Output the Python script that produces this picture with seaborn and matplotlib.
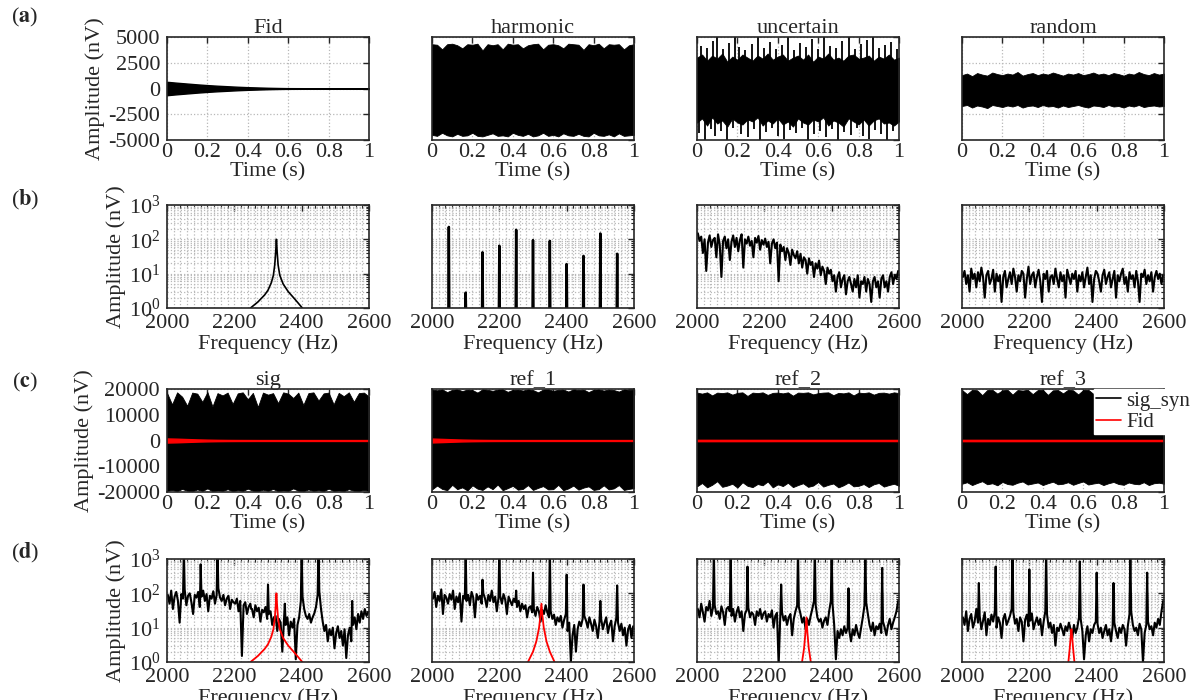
import numpy as np
import pandas as pd
import matplotlib.pyplot as plt
import seaborn as sns
from matplotlib.lines import Line2D
from matplotlib.ticker import MultipleLocator, LogLocator, NullFormatter

sns.set_theme(style='white')
plt.rcParams['font.family'] = ['Liberation Serif', 'DejaVu Serif']
plt.rcParams['mathtext.fontset'] = 'stix'
plt.rcParams['axes.unicode_minus'] = False

BLACK = '#000000'
RED = '#ff0000'

# ------------------------------------------------------------------ data
row_a_titles = ['Fid', 'harmonic', 'uncertain', 'random']
row_c_titles = ['sig', 'ref_1', 'ref_2', 'ref_3']
panel_tags = ['a', 'b', 'c', 'd']

# time grid of the envelopes (every 0.025 s)
t_env = np.linspace(0, 1, 41)

# (a) time signals, upper / lower envelope (nV)
fid_t = [0, .05, .1, .15, .2, .25, .3, .35, .4, .45, .5, .55, .6, .8, 1.0]
fid_amp = [650, 560, 480, 400, 330, 270, 220, 170, 130, 100, 70, 50, 35, 20, 15]

harm_up = [4300, 4250, 3800, 4300, 4350, 4200, 3900, 4300, 4250, 4350, 3700, 4300, 4200, 4300,
           3800, 4350, 4250, 4300, 3900, 4200, 4300, 4350, 3800, 4250, 4300, 4200, 3900, 4350,
           4300, 4250, 3750, 4300, 4200, 4350, 3900, 4300, 4250, 4300, 3800, 4200, 4300]
harm_lo = [-4500, -4600, -4300, -4550, -4650, -4400, -4600, -4550, -4300, -4600, -4650, -4500,
           -4350, -4600, -4550, -4650, -4300, -4500, -4600, -4400, -4650, -4550, -4300, -4600,
           -4500, -4650, -4350, -4550, -4600, -4400, -4600, -4650, -4300, -4550, -4600, -4450,
           -4650, -4350, -4600, -4550, -4500]
# uncertain: dense core plus isolated spikes
unc_up = [3000, 3300, 2700, 3200, 2900, 3400, 2600, 3100, 2800, 3300, 3000, 2700, 3200, 2900,
          3400, 2800, 3100, 3300, 2700, 3000, 3200, 2800, 3300, 2600, 3100, 2900, 3400, 2800,
          3000, 2700, 3200, 3300, 2900, 3000, 3200, 2700, 3100, 2900, 3300, 2800, 3000]
unc_lo = [-3300, -2900, -3600, -2800, -3400, -3100, -3700, -2900, -3300, -3500, -3000, -3200,
          -2800, -3600, -3100, -3400, -2900, -3500, -3200, -3700, -2900, -3300, -3500, -3000,
          -3200, -2800, -3600, -3100, -3300, -3700, -2900, -3200, -3500, -3000, -3600, -3100,
          -2900, -3400, -3300, -3600, -3200]
unc_spk_up_t = [0.02, 0.05, 0.08, 0.1, 0.13, 0.16, 0.19, 0.21, 0.24, 0.27, 0.3, 0.33, 0.36, 0.39,
                0.42, 0.45, 0.48, 0.51, 0.54, 0.57, 0.6, 0.63, 0.66, 0.69, 0.72, 0.75, 0.78,
                0.81, 0.84, 0.87, 0.9, 0.93, 0.96, 0.99]
unc_spk_up_v = [4100, 3900, 4600, 5000, 3800, 4400, 5000, 4000, 3700, 4300, 5000, 3900, 4500,
                3800, 4200, 5000, 3700, 4400, 4000, 4800, 3800, 5000, 4100, 3900, 4600, 5000,
                3800, 4300, 4700, 5000, 3900, 4200, 4500, 3800]
unc_spk_lo_t = [0.01, 0.04, 0.07, 0.09, 0.12, 0.15, 0.18, 0.22, 0.25, 0.28, 0.31, 0.34, 0.37,
                0.4, 0.43, 0.46, 0.49, 0.52, 0.55, 0.58, 0.61, 0.64, 0.67, 0.7, 0.73, 0.76,
                0.79, 0.82, 0.85, 0.88, 0.91, 0.94, 0.97]
unc_spk_lo_v = [-4300, -5000, -3900, -4600, -4100, -5000, -3800, -4400, -4700, -3900, -5000,
                -4200, -3800, -4600, -4900, -4000, -4300, -3800, -5000, -4400, -4100, -4700,
                -3900, -5000, -4200, -4500, -3800, -4600, -4900, -4000, -4400, -5000, -4100]
rnd_up = [1300, 1450, 1200, 1500, 1350, 1250, 1550, 1400, 1300, 1450, 1350, 1600, 1250, 1400,
          1500, 1300, 1450, 1350, 1550, 1400, 1250, 1450, 1350, 1500, 1300, 1400, 1550, 1350,
          1450, 1300, 1500, 1400, 1250, 1450, 1350, 1600, 1400, 1300, 1500, 1350, 1450]
rnd_lo = [-1700, -1600, -1850, -1650, -1750, -1900, -1600, -1700, -1800, -1650, -1750, -1600,
          -1850, -1700, -1650, -1800, -1600, -1750, -1700, -1850, -1650, -1800, -1700, -1600,
          -1750, -1850, -1650, -1700, -1800, -1600, -1750, -1700, -1850, -1650, -1750, -1600,
          -1800, -1700, -1650, -1750, -1700]

# (c) synthetic signals, upper / lower envelope (nV)
sig_up = [18500, 14000, 18700, 17000, 13500, 18600, 18200, 15000, 18800, 13200, 18400, 17500,
          18600, 14200, 18300, 18700, 16000, 18500, 13000, 18600, 17800, 18400, 14500, 18700,
          18200, 16500, 18600, 13800, 18400, 18700, 15500, 18300, 18600, 14000, 18500, 17200,
          18700, 15000, 18400, 18600, 17000]
sig_lo = [-19600, -19200, -19700, -18800, -19500, -19700, -19000, -19600, -18600, -19700,
          -19400, -19600, -18900, -19700, -19300, -19600, -18700, -19500, -19700, -19100,
          -19600, -18800, -19700, -19400, -19600, -18600, -19500, -19700, -19000, -19600,
          -19300, -19700, -18700, -19600, -19400, -19700, -18900, -19500, -19600, -19200, -19600]
ref1_up = [19800, 19500, 19900, 18800, 19700, 19900, 19200, 19800, 19600, 18600, 19900, 19700,
           19300, 19800, 19900, 18900, 19700, 19800, 19400, 19900, 19600, 18700, 19800, 19900,
           19300, 19700, 19800, 19000, 19900, 19600, 19800, 18800, 19700, 19900, 19400, 19800,
           19600, 19000, 19900, 19700, 19800]
ref1_lo = [-19000, -17500, -18800, -19300, -17200, -18900, -18200, -19400, -17400, -18700,
           -19200, -17800, -18900, -17100, -19300, -18500, -17600, -19100, -18800, -17300,
           -19200, -18400, -17700, -19000, -18900, -17200, -19300, -18600, -17500, -19100,
           -18300, -17800, -19200, -18900, -17400, -19000, -18600, -17300, -19200, -18800, -18500]
ref2_up = [18600, 18200, 18700, 17500, 18600, 18400, 18700, 17800, 18500, 18700, 17300, 18600,
           18400, 18700, 17700, 18500, 18600, 18300, 18700, 17400, 18600, 18500, 18700, 17900,
           18400, 18600, 18700, 17600, 18500, 18300, 18700, 17500, 18600, 18400, 18700, 17800,
           18500, 18600, 18200, 18700, 18400]
ref2_lo = [-17800, -16500, -18200, -17200, -15800, -18000, -17500, -16800, -18300, -16200,
           -17600, -18100, -16900, -17400, -15900, -18200, -17000, -17700, -16400, -18100,
           -17300, -16600, -18000, -17500, -16100, -17900, -17200, -16700, -18200, -17400,
           -16300, -17800, -17600, -16900, -18100, -17000, -16500, -17900, -17300, -16800, -17600]
ref3_up = [19600, 18000, 19700, 19500, 17600, 19600, 19700, 18200, 19500, 19700, 17800, 19600,
           19400, 19700, 18000, 19600, 19700, 17700, 19500, 19600, 18300, 19700, 19500, 17900,
           19600, 19700, 18100, 19500, 19700, 17600, 19600, 19500, 18200, 19700, 19600, 17800,
           19500, 19700, 18000, 19600, 19500]
ref3_lo = [-16800, -16200, -17300, -16500, -15800, -17000, -16600, -17400, -16100, -16900,
           -17200, -16400, -15900, -17100, -16700, -16300, -17300, -16600, -16000, -17000,
           -16800, -16200, -17200, -16500, -15900, -17100, -16700, -16400, -17300, -16600,
           -16100, -16900, -17200, -16300, -16800, -17000, -16200, -17300, -16600, -16400, -16800]

# Fid envelope inside the (c) panels (nV)
sig_fid_amp = [800, 700, 560, 430, 330, 260, 220, 200, 190, 180, 180, 180, 180, 180, 180]
ref1_fid_amp = [750, 620, 480, 360, 280, 230, 200, 190, 180, 180, 180, 180, 180, 180, 180]
ref2_fid_amp = [260, 260, 250, 250, 250, 240, 240, 240, 230, 230, 230, 230, 230, 220, 220]
ref3_fid_amp = [250, 250, 250, 240, 240, 240, 240, 230, 230, 230, 230, 220, 220, 220, 220]

# spectra: noise read every 5 Hz (2002.5 ... 2597.5 Hz)
f_noise = np.arange(2002.5, 2600, 5)

# Fid spectrum
fid_f = [2248, 2270, 2290, 2300, 2310, 2316, 2320, 2323, 2325, 2327, 2330, 2335, 2345, 2360, 2380, 2402]
fid_a = [1.0, 1.5, 2.4, 3.3, 5.5, 9, 18, 45, 100, 45, 18, 9, 5, 3, 1.8, 1.0]

# harmonic lines
harm_f = [2050, 2100, 2150, 2200, 2250, 2300, 2350, 2400, 2450, 2500, 2550]
harm_a = [230, 2.8, 42, 65, 190, 95, 90, 19, 33, 148, 38]

unc_spec = [150, 90, 120, 40, 100, 12, 80, 130, 60, 95,
            110, 30, 140, 70, 8, 90, 120, 55, 100, 25,
            85, 130, 60, 110, 45, 95, 140, 15, 100, 75,
            120, 65, 90, 30, 110, 80, 125, 50, 95, 70,
            105, 60, 85, 20, 75, 100, 55, 80, 6, 70,
            45, 60, 25, 55, 40, 18, 50, 35, 28, 45,
            20, 38, 15, 30, 25, 10, 28, 18, 22, 8,
            20, 14, 24, 9, 16, 12, 5, 15, 10, 13,
            6, 9, 3, 8, 11, 4, 7, 9, 2.5, 6,
            8, 5, 3, 7, 4, 9, 2, 6, 5, 8,
            3, 7, 5, 1.5, 6, 8, 4, 6, 2, 7,
            9, 4, 6, 3, 8, 11, 5, 9, 7, 12]
rnd_spec = [8, 12, 5, 9, 3, 14, 7, 10, 4, 11,
            6, 15, 8, 2, 9, 12, 5, 7, 13, 3,
            10, 6, 9, 1.5, 8, 12, 4, 7, 11, 5,
            14, 8, 3, 9, 6, 12, 10, 2, 7, 16,
            5, 9, 11, 4, 8, 13, 6, 1.5, 10, 7,
            12, 3, 8, 9, 5, 14, 7, 4, 11, 6,
            9, 2, 13, 8, 5, 10, 7, 12, 3, 9,
            6, 11, 4, 8, 15, 5, 9, 1.5, 7, 12,
            10, 6, 3, 9, 13, 5, 8, 11, 4, 7,
            12, 2, 9, 6, 10, 14, 5, 8, 3, 11,
            7, 9, 4, 12, 6, 1.5, 10, 8, 13, 5,
            9, 6, 11, 3, 8, 12, 7, 10, 5, 9]

# (d) noise floors of the synthetic signals
sig_spec = [90, 50, 120, 35, 80, 110, 60, 14, 95, 70,
            130, 45, 85, 100, 55, 25, 90, 75, 110, 40,
            80, 120, 60, 95, 30, 85, 70, 115, 50, 90,
            140, 75, 60, 90, 45, 70, 85, 35, 65, 55,
            50, 70, 30, 60, 1.5, 45, 55, 25, 40, 50,
            35, 20, 45, 30, 38, 15, 33, 28, 40, 18,
            25, 30, 12, 20, 22, 8, 18, 14, 2, 16,
            12, 20, 6, 15, 10, 18, 1.2, 12, 20, 60,
            80, 35, 22, 18, 25, 14, 20, 26, 40, 90,
            110, 35, 15, 8, 12, 4, 9, 6, 10, 2.5,
            7, 11, 5, 8, 3, 9, 1.3, 6, 10, 4,
            12, 20, 9, 25, 14, 30, 18, 35, 22, 28]
ref1_spec = [70, 110, 40, 85, 60, 130, 25, 90, 75, 50,
             95, 65, 120, 35, 80, 55, 100, 15, 85, 70,
             60, 90, 45, 110, 75, 20, 95, 65, 85, 50,
             100, 70, 40, 90, 60, 120, 55, 80, 30, 75,
             85, 50, 95, 65, 25, 80, 60, 45, 70, 55,
             40, 60, 30, 50, 35, 45, 20, 38, 42, 28,
             35, 22, 40, 30, 15, 33, 25, 45, 28, 20,
             30, 18, 24, 12, 20, 15, 22, 10, 17, 25,
             8, 14, 1, 6, 12, 2, 9, 15, 11, 18,
             22, 16, 10, 20, 13, 8, 17, 11, 5, 15,
             18, 9, 14, 20, 7, 12, 16, 4, 11, 19,
             14, 8, 13, 6, 10, 3, 9, 12, 5, 11]
ref2_spec = [35, 20, 50, 28, 15, 40, 32, 60, 22, 38,
             45, 25, 30, 18, 42, 28, 12, 35, 40, 30,
             22, 35, 15, 28, 40, 20, 30, 8, 25, 33,
             38, 20, 28, 24, 12, 30, 22, 35, 18, 26,
             30, 15, 25, 20, 32, 10, 22, 27, 0.8, 24,
             28, 16, 22, 12, 20, 25, 6, 18, 30, 45,
             40, 25, 14, 20, 9, 18, 12, 22, 35, 60,
             45, 20, 15, 18, 10, 16, 20, 12, 30, 60,
             50, 12, 1.2, 8, 5, 9, 6, 11, 7, 10,
             8, 4, 9, 6, 12, 7, 5, 10, 20, 45,
             55, 25, 12, 8, 14, 6, 11, 9, 13, 7,
             15, 10, 6, 12, 18, 9, 14, 20, 30, 60]
ref3_spec = [20, 12, 30, 8, 18, 25, 10, 15, 35, 14,
             22, 9, 16, 28, 6, 18, 12, 24, 15, 30,
             10, 20, 14, 5, 18, 25, 12, 16, 22, 35,
             28, 13, 18, 8, 20, 15, 4, 17, 24, 11,
             16, 26, 9, 14, 20, 12, 18, 6, 15, 30,
             25, 10, 14, 7, 12, 3, 10, 8, 13, 9,
             6, 11, 8, 14, 9, 5, 12, 7, 10, 20,
             18, 8, 1.2, 6, 11, 4, 9, 7, 12, 15,
             13, 7, 10, 5, 8, 12, 6, 9, 4, 11,
             14, 8, 5, 10, 7, 12, 9, 3, 11, 25,
             30, 12, 8, 10, 6, 13, 9, 1, 7, 12,
             15, 9, 11, 6, 14, 10, 18, 12, 30, 60]

# (d) harmonic peaks on top of the noise
sig_pk_f = [2050, 2100, 2150, 2250, 2300, 2350, 2400, 2450, 2550]
sig_pk_a = [2000, 700, 2000, 35, 180, 50, 2000, 2000, 60]
ref1_pk_f = [2100, 2150, 2200, 2250, 2300, 2350, 2400, 2450, 2500, 2550]
ref1_pk_a = [2000, 250, 2000, 120, 400, 2000, 350, 180, 60, 170]
ref2_pk_f = [2050, 2100, 2150, 2250, 2300, 2350, 2400, 2450, 2500, 2550]
ref2_pk_a = [2000, 2000, 600, 180, 2000, 2000, 2000, 140, 2000, 550]
ref3_pk_f = [2050, 2100, 2150, 2200, 2250, 2350, 2400, 2450, 2500, 2550]
ref3_pk_a = [200, 600, 2000, 500, 2000, 850, 400, 200, 2000, 400]

# Fid spectra (red) in (d)
r1_fid_f = [2285, 2300, 2310, 2318, 2322, 2325, 2328, 2332, 2340, 2350, 2364]
r1_fid_a = [1.0, 2.0, 4.0, 10, 22, 50, 22, 10, 4.0, 2.0, 1.0]
r2_fid_f = [2312, 2318, 2322, 2325, 2328, 2332, 2338]
r2_fid_a = [1.0, 2.5, 7, 20, 7, 2.5, 1.0]
r3_fid_f = [2316, 2320, 2322.5, 2325, 2327.5, 2330, 2334]
r3_fid_a = [1.0, 2.5, 5, 9, 5, 2.5, 1.0]

# ------------------------------------------------------------------ layout
W, H = 1199, 700
col_left = [167, 432, 697, 962]
row_top = [37, 205, 389, 559]
ax_w, ax_h = 202, 103
tag_y = [17, 200, 382, 553]

fig = plt.figure(figsize=(W / 100, H / 100), dpi=100)

axes = [[fig.add_axes([x / W, 1 - (y + ax_h) / H, ax_w / W, ax_h / H]) for x in col_left]
        for y in row_top]


def style(ax, kind, first):
    ax.set_axisbelow(True)
    for sp in ax.spines.values():
        sp.set_linewidth(1.2)
        sp.set_color('#262626')
    ax.tick_params(which='both', direction='in', top=True, right=True, labelsize=16)
    ax.tick_params(which='major', length=4, width=1)
    ax.tick_params(which='minor', length=2, width=0.8)
    ax.tick_params(axis='y', pad=5)
    if kind == 'time':
        ax.set_xlim(0, 1)
        ax.xaxis.set_major_locator(MultipleLocator(0.2))
        ax.xaxis.set_major_formatter(lambda v, p: f'{v:g}')
        ax.tick_params(axis='x', pad=2)
        ax.grid(True, which='major', ls=':', color='#b8b8b8', lw=0.9)
        ax.set_xlabel('Time (s)', fontsize=16, labelpad=0)
    else:
        ax.set_yscale('log')
        ax.set_ylim(1, 1000)
        ax.set_xlim(2000, 2600)
        ax.xaxis.set_major_locator(MultipleLocator(200))
        ax.xaxis.set_minor_locator(MultipleLocator(20))
        ax.yaxis.set_major_locator(LogLocator(base=10, numticks=5))
        ax.yaxis.set_minor_locator(LogLocator(base=10, subs=np.arange(2, 10), numticks=10))
        ax.yaxis.set_minor_formatter(NullFormatter())
        ax.tick_params(axis='x', pad=4)
        ax.grid(True, which='both', ls=':', color='#b8b8b8', lw=0.9)
        ax.set_xlabel('Frequency (Hz)', fontsize=16, labelpad=1)
    if first:
        ax.set_ylabel('Amplitude (nV)', fontsize=16, labelpad=2)
    else:
        ax.set_ylabel('')
        ax.tick_params(labelleft=False)


def spectrum_df(noise, pk_f, pk_a):
    df = pd.DataFrame({'f': np.concatenate([f_noise, pk_f]),
                       'a': np.concatenate([noise, pk_a])})
    return df.sort_values('f')


def spike_df(pk_f, pk_a):
    # each harmonic drawn as a narrow line rising from below the axis
    f, a = [], []
    for fr, am in zip(pk_f, pk_a):
        f += [fr - 1.5, fr, fr + 1.5]
        a += [0.5, am, 0.5]
    return pd.DataFrame({'f': f, 'a': a})


# row (a): time signals
env_a = [None, (harm_up, harm_lo), (unc_up, unc_lo), (rnd_up, rnd_lo)]
for j, ax in enumerate(axes[0]):
    if j == 0:
        ax.fill_between(fid_t, -np.array(fid_amp), fid_amp, color=BLACK, lw=1)
        sns.lineplot(x=fid_t, y=[0] * len(fid_t), ax=ax, color=BLACK, lw=1.2)
    else:
        up, lo = env_a[j]
        ax.fill_between(t_env, lo, up, color=BLACK, lw=0.6)
    if j == 2:
        ax.vlines(unc_spk_up_t, 0, unc_spk_up_v, color=BLACK, lw=1.3)
        ax.vlines(unc_spk_lo_t, unc_spk_lo_v, 0, color=BLACK, lw=1.3)
    ax.set_ylim(-5000, 5000)
    ax.yaxis.set_major_locator(MultipleLocator(2500))
    ax.set_title(row_a_titles[j], fontsize=16, pad=3)
    style(ax, 'time', j == 0)

# row (b): spectra of the components
ax = axes[1][0]
sns.lineplot(x=fid_f, y=fid_a, ax=ax, color=BLACK, lw=1.2, estimator=None)
ax = axes[1][1]
d = spike_df(harm_f, harm_a)
sns.lineplot(data=d, x='f', y='a', ax=ax, color=BLACK, lw=1.8, estimator=None, sort=False)
ax = axes[1][2]
sns.lineplot(x=f_noise, y=unc_spec, ax=ax, color=BLACK, lw=1.5, estimator=None)
ax = axes[1][3]
sns.lineplot(x=f_noise, y=rnd_spec, ax=ax, color=BLACK, lw=1.5, estimator=None)
for j, ax in enumerate(axes[1]):
    style(ax, 'freq', j == 0)

# row (c): synthetic signals with the Fid overlaid
env_c = [(sig_up, sig_lo), (ref1_up, ref1_lo), (ref2_up, ref2_lo), (ref3_up, ref3_lo)]
fid_c = [sig_fid_amp, ref1_fid_amp, ref2_fid_amp, ref3_fid_amp]
for j, ax in enumerate(axes[2]):
    up, lo = env_c[j]
    ax.fill_between(t_env, lo, up, color=BLACK, lw=0.6)
    ax.fill_between(fid_t, -np.array(fid_c[j]), fid_c[j], color=RED, lw=1)
    ax.set_ylim(-20000, 20000)
    ax.yaxis.set_major_locator(MultipleLocator(10000))
    ax.set_title(row_c_titles[j], fontsize=16, pad=3)
    style(ax, 'time', j == 0)

leg_handles = [Line2D([], [], color=BLACK, lw=1.2), Line2D([], [], color=RED, lw=1.2)]
axes[2][3].legend(leg_handles, ['sig_syn', 'Fid'], loc='upper left', bbox_to_anchor=(0.655, 1.0),
                  frameon=True, facecolor='white', edgecolor='white', framealpha=1,
                  fancybox=False, fontsize=15, handlelength=1.2, borderpad=0.1,
                  labelspacing=0.1, handletextpad=0.25, borderaxespad=0)

# row (d): spectra of the synthetic signals
spec_d = [(sig_spec, sig_pk_f, sig_pk_a), (ref1_spec, ref1_pk_f, ref1_pk_a),
          (ref2_spec, ref2_pk_f, ref2_pk_a), (ref3_spec, ref3_pk_f, ref3_pk_a)]
fid_d = [(fid_f, fid_a), (r1_fid_f, r1_fid_a), (r2_fid_f, r2_fid_a), (r3_fid_f, r3_fid_a)]
for j, ax in enumerate(axes[3]):
    d = spectrum_df(*spec_d[j])
    sns.lineplot(data=d, x='f', y='a', ax=ax, color=BLACK, lw=1.5, estimator=None, sort=False)
    sns.lineplot(x=fid_d[j][0], y=fid_d[j][1], ax=ax, color=RED, lw=1.3, estimator=None)
    style(ax, 'freq', j == 0)

# panel tags
for tag, y in zip(panel_tags, tag_y):
    fig.text(25 / W, 1 - y / H, '(' + r'$\mathbf{' + tag + '}$' + ')', fontsize=16,
             ha='center', va='center')

fig.savefig('out.png', dpi=100)
